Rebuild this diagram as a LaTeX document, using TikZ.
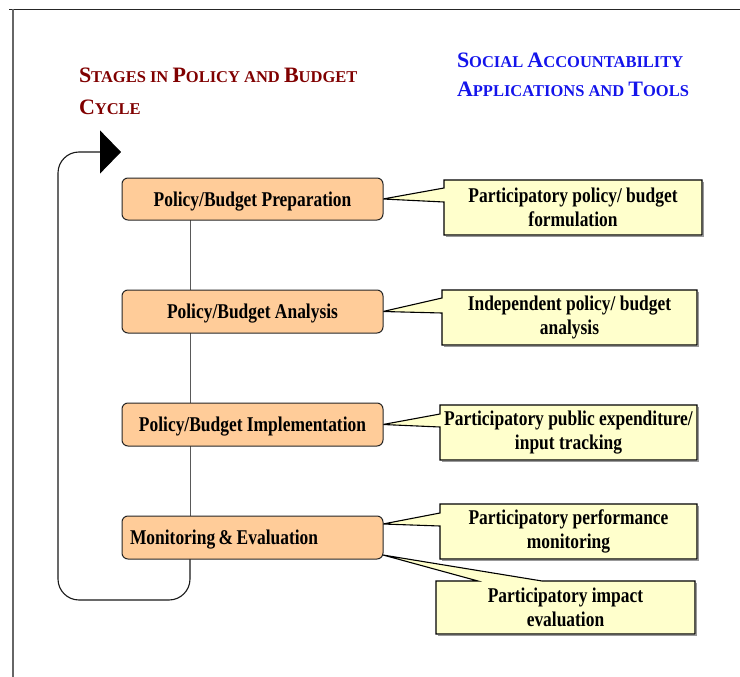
\documentclass[tikz,border=0pt]{standalone}
\usepackage{fontspec}
\setmainfont{Liberation Serif}
\newfontfamily\boxfont{Liberation Serif}[FakeStretch=0.83]
\usetikzlibrary{calc,arrows.meta,backgrounds}
\definecolor{orangefill}{RGB}{255,204,153}
\definecolor{yellowfill}{RGB}{255,255,204}
\definecolor{titlered}{RGB}{128,0,0}
\definecolor{titleblue}{RGB}{20,20,235}
\newcommand\bigc[1]{{\fontsize{22}{32}\selectfont #1}}
\newcommand\smallc[1]{{\fontsize{16.5}{32}\selectfont #1}}
\newcommand\leftcallout[4]{%
  \draw[shadowline] ([shift={(1.5,1.5)}]#1.north east) -- ([shift={(1.5,1.5)}]#1.south east) -- ([shift={(1.5,1.5)}]#1.south west);
  \filldraw[calloutbox] (#1.north west) -- (#1.north east) -- (#1.south east) -- (#1.south west)
    -- ($(#1.north west)+(0,#4)$) -- (#2) -- ($(#1.north west)+(0,#3)$) -- cycle;
}
\begin{document}
\begin{tikzpicture}[x=1pt,y=-1pt,
  stagebox/.style={draw=black!85, line width=1, fill=orangefill, rounded corners=6,
    minimum width=261, minimum height=43, inner sep=0, outer sep=0,
    text height=14pt, text depth=0pt,
    font=\boxfont\fontsize{21}{24}\selectfont\bfseries},
  toolbox/.style={inner sep=0, outer sep=0, minimum height=55, align=center,
    font=\boxfont\fontsize{21}{24}\selectfont\bfseries},
  calloutbox/.style={draw=black, line width=1.1, fill=yellowfill, line join=miter},
  shadowline/.style={draw=black!40, line width=1.3},
  spineline/.style={draw=black!65, line width=0.9},
  loopline/.style={draw=black!90, line width=1.1, rounded corners=21,
    -{Triangle[length=21pt,width=43pt,color=black]}},
  titlestyle/.style={inner sep=0, outer sep=0, anchor=base west, align=left,
    font=\bfseries\fontsize{16.5}{32}\selectfont}
]
\useasboundingbox (0,0) rectangle (740,677);
% frame
\draw[black!85, line width=1] (9,9.3) -- (740,9.3);
\draw[black!60, line width=2] (13,8.8) -- (13,677);

% titles (anchor at the baseline of the last line)
\node[titlestyle, text=titlered] (ttl1) at (79,114)
  {\bigc{S}\smallc{TAGES IN} \bigc{P}\smallc{OLICY AND} \bigc{B}\smallc{UDGET}\\
   \bigc{C}\smallc{YCLE}};
\node[titlestyle, text=titleblue, font=\bfseries\fontsize{16.5}{29}\selectfont] (ttl2) at (457,97)
  {\bigc{S}\smallc{OCIAL} \bigc{A}\smallc{CCOUNTABILITY}\\
   \bigc{A}\smallc{PPLICATIONS AND} \bigc{T}\smallc{OOLS}};

% stages
\node[stagebox, minimum height=42] (O1) at (252.5,199) {Policy/Budget Preparation};
\node[stagebox] (O2) at (252.5,311.5) {Policy/Budget Analysis};
\node[stagebox] (O3) at (252.5,424.5) {Policy/Budget Implementation};
\node[stagebox, text width=245, align=flush left] (O4) at (252.5,537.5) {Monitoring\,\&\,Evaluation};

% tools
\node[toolbox, minimum width=258] (Y1) at (573,207.5) {Participatory policy/ budget\\formulation};
\node[toolbox, minimum width=255] (Y2) at (569.5,317.5) {Independent policy/ budget\\analysis};
\node[toolbox, minimum width=257] (Y3) at (568.5,432.5) {Participatory public expenditure/\\input tracking};
\node[toolbox, minimum width=257] (Y4) at (568.5,531.5) {Participatory performance\\monitoring};
\node[toolbox, minimum width=259, minimum height=53] (Y5) at (565.5,607.5) {Participatory impact\\evaluation};

\coordinate (sp) at (190,0);
\coordinate (lbr) at (190,600);
\coordinate (lbl) at (58,600);
\coordinate (ltl) at (58,152);
\coordinate (arrowtip) at (121,152);

\begin{scope}[on background layer]
  \draw[spineline] (O1.south -| sp) -- (O4.north -| sp);
  \draw[loopline] (O4.south -| sp) -- (lbr) -- (lbl) -- (ltl) -- (arrowtip);
  \leftcallout{Y1}{O1.east}{8}{22}
  \leftcallout{Y2}{O2.east}{8}{23}
  \leftcallout{Y3}{O3.east}{9}{22}
  \leftcallout{Y4}{$(O4.north east)+(0,8)$}{9}{22}
  \draw[shadowline] ([shift={(1.5,1.5)}]Y5.north east) -- ([shift={(1.5,1.5)}]Y5.south east) -- ([shift={(1.5,1.5)}]Y5.south west);
  \filldraw[calloutbox] (Y5.north west) -- ($(Y5.north west)+(42,0)$) -- ($(O4.south east)+(0,-4)$)
    -- ($(Y5.north west)+(106,0)$) -- (Y5.north east) -- (Y5.south east) -- (Y5.south west) -- cycle;
\end{scope}
\end{tikzpicture}
\end{document}
